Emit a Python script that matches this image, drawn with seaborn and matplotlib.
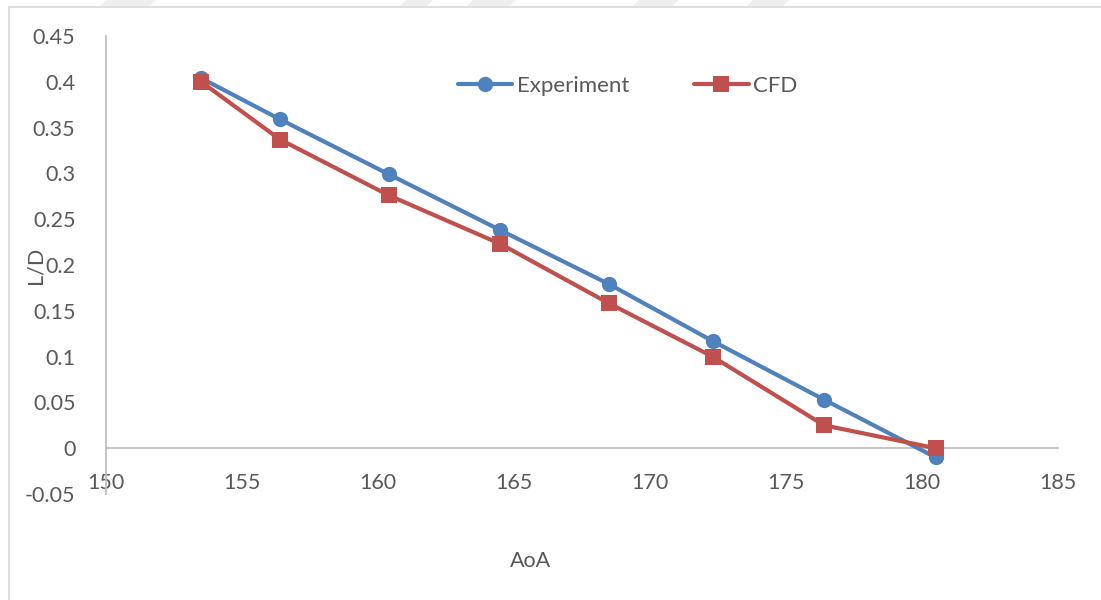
import matplotlib
matplotlib.use("Agg")
import matplotlib.pyplot as plt
from matplotlib.lines import Line2D
from matplotlib.patches import Polygon
import seaborn as sns
import pandas as pd

# Angle of attack (deg) and lift-to-drag ratio
aoa = [153.5, 156.4, 160.4, 164.5, 168.5, 172.3, 176.4, 180.5]
ld_experiment = [0.404, 0.359, 0.299, 0.238, 0.179, 0.117, 0.053, -0.010]
ld_cfd = [0.400, 0.337, 0.276, 0.223, 0.158, 0.100, 0.025, 0.000]

x_ticks = [150, 155, 160, 165, 170, 175, 180, 185]
y_ticks = [-0.05, 0, 0.05, 0.1, 0.15, 0.2, 0.25, 0.3, 0.35, 0.4, 0.45]
y_tick_labels = ["-0.05", "0", "0.05", "0.1", "0.15", "0.2", "0.25", "0.3", "0.35", "0.4", "0.45"]

BLUE = "#4F81BD"
RED = "#C0504D"
TEXT = "#595959"
AXIS = "#BFBFBF"

sns.set_theme(style="white")
plt.rcParams["font.family"] = ["Lato", "DejaVu Sans"]

fig = plt.figure(figsize=(11.01, 6.0), dpi=100)
ax = fig.add_axes([106 / 1101, 1 - 494 / 600, (1058 - 106) / 1101, (494 - 36) / 600])

df_exp = pd.DataFrame({"AoA": aoa, "L/D": ld_experiment})
df_cfd = pd.DataFrame({"AoA": aoa, "L/D": ld_cfd})

sns.lineplot(data=df_exp, x="AoA", y="L/D", ax=ax, sort=False, color=BLUE,
             linewidth=3, marker="o", markersize=11, markeredgewidth=0,
             label="Experiment", zorder=3)
sns.lineplot(data=df_cfd, x="AoA", y="L/D", ax=ax, sort=False, color=RED,
             linewidth=3, marker="s", markersize=11, markeredgewidth=0,
             label="CFD", zorder=4)

ax.set_xlim(150, 185)
ax.set_ylim(-0.05, 0.45)
ax.set_xticks(x_ticks)
ax.set_xticklabels([str(t) for t in x_ticks])
ax.set_yticks(y_ticks)
ax.set_yticklabels(y_tick_labels)

for side in ("top", "right"):
    ax.spines[side].set_visible(False)
ax.spines["left"].set_color(AXIS)
ax.spines["left"].set_linewidth(1.3)
ax.spines["bottom"].set_position(("data", 0))
ax.spines["bottom"].set_color(AXIS)
ax.spines["bottom"].set_linewidth(1.3)

ax.tick_params(axis="both", length=0, labelsize=15.5, labelcolor=TEXT)
ax.tick_params(axis="y", pad=22)
ax.tick_params(axis="x", pad=17.5)
ax.set_xlabel("")
ax.set_ylabel("")
ax.grid(False)

fig.text(35 / 1101, 1 - 265 / 600, "L/D", rotation=90, ha="center", va="center",
         fontsize=15.5, color=TEXT)
fig.text(530 / 1101, 1 - 561 / 600, "AoA", ha="center", va="center",
         fontsize=15.5, color=TEXT)

leg = ax.legend(loc="center left", bbox_to_anchor=((458 - 106) / 952, (494 - 86) / 458),
                ncol=2, frameon=False, fontsize=16, handlelength=2.45,
                handletextpad=0.22, columnspacing=2.9, borderaxespad=0, borderpad=0)
for txt in leg.get_texts():
    txt.set_color(TEXT)

# outer chart frame (top and left edges)
fig.add_artist(Line2D([9 / 1101, 1.0], [1 - 7 / 600, 1 - 7 / 600], color="#D9D9D9", lw=1.2))
fig.add_artist(Line2D([9 / 1101, 9 / 1101], [0.0, 1 - 7 / 600], color="#D9D9D9", lw=1.2))

# faint chevron band along the top edge
for x0, x1 in [(100, 150), (400, 427), (467, 510), (633, 673), (747, 783)]:
    fig.add_artist(Polygon([(x0 / 1101, 1 - 6 / 600), (x1 / 1101, 1 - 6 / 600),
                            ((x1 + 6) / 1101, 1.0), ((x0 + 6) / 1101, 1.0)],
                           closed=True, facecolor="#EFEFEF", edgecolor="none",
                           transform=fig.transFigure))

fig.savefig("out.png", dpi=100, facecolor="white")
